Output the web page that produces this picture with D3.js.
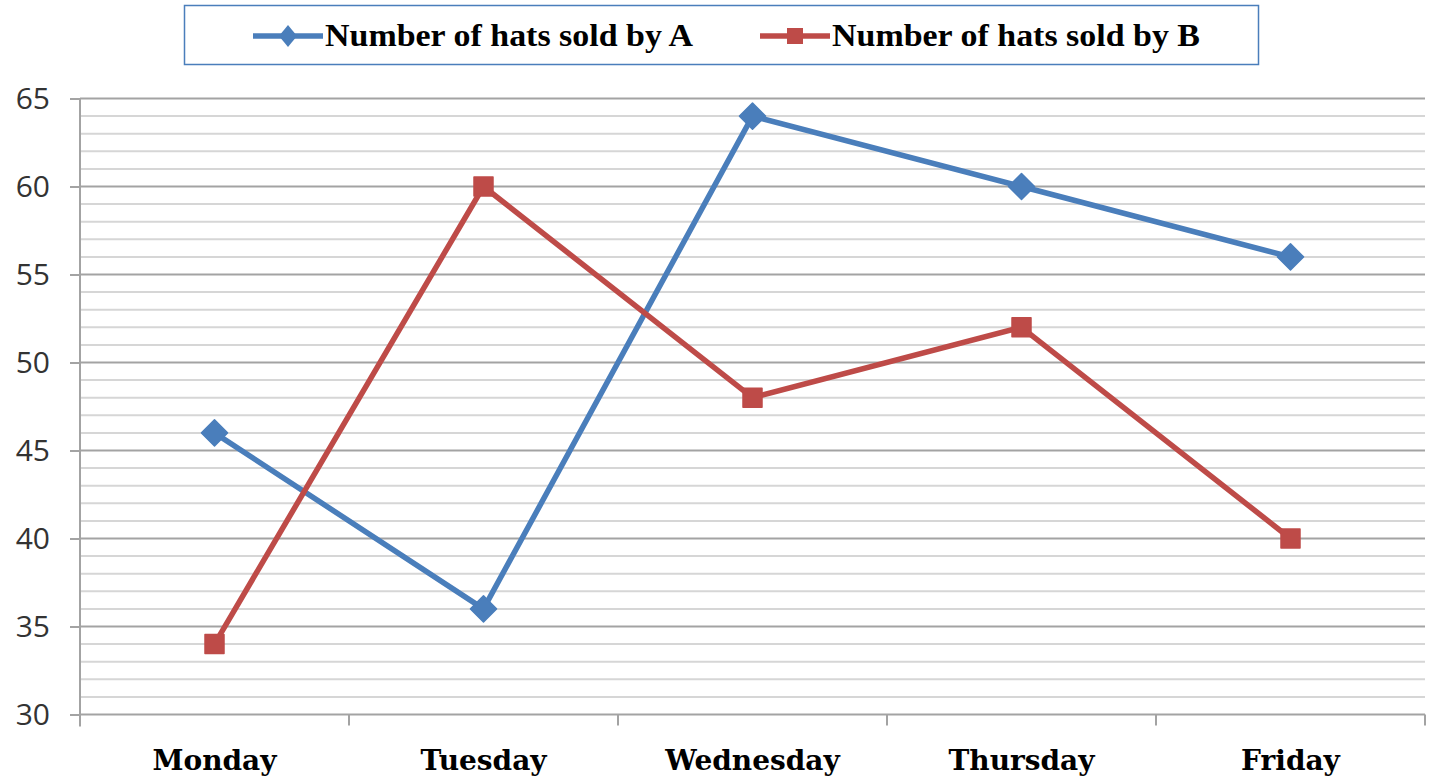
<!DOCTYPE html>
<html>
<head>
<meta charset="utf-8">
<script src="https://cdn.jsdelivr.net/npm/d3@7"></script>
<style>
  body { margin: 0; background: #fff; }
  svg { display: block; }
</style>
</head>
<body>
<div id="chart"></div>
<script>
// data
const days = ["Monday", "Tuesday", "Wednesday", "Thursday", "Friday"];
const hatsA = [46, 36, 64, 60, 56];
const hatsB = [34, 60, 48, 52, 40];
const seriesNames = ["Number of hats sold by A", "Number of hats sold by B"];
const yTicks = [30, 35, 40, 45, 50, 55, 60, 65];

const width = 1434, height = 778;
const margin = {top: 98.5, right: 9, bottom: 63.5, left: 80};
const colors = ["#4a7ebb", "#be4b48"];

const svg = d3.select('#chart').append('svg')
    .attr('width', width)
    .attr('height', height);

const x = d3.scaleBand()
    .domain(days)
    .range([margin.left, width - margin.right]);

const y = d3.scaleLinear()
    .domain([30, 65])
    .range([height - margin.bottom, margin.top]);

// minor gridlines every 1 unit
const minor = d3.range(31, 65).filter(v => v % 5 !== 0);
svg.append('g')
    .selectAll('line')
    .data(minor)
    .join('line')
    .attr('x1', margin.left)
    .attr('x2', width - margin.right)
    .attr('y1', d => y(d))
    .attr('y2', d => y(d))
    .attr('stroke', '#d6d6d6')
    .attr('stroke-width', 2);

// major gridlines
svg.append('g')
    .selectAll('line')
    .data(yTicks.filter(v => v !== 30))
    .join('line')
    .attr('x1', margin.left)
    .attr('x2', width - margin.right)
    .attr('y1', d => y(d))
    .attr('y2', d => y(d))
    .attr('stroke', '#a3a3a3')
    .attr('stroke-width', 2);

// y axis
const yAxis = svg.append('g')
    .attr('transform', `translate(${margin.left},0)`)
    .call(d3.axisLeft(y).tickValues(yTicks).tickSize(10).tickPadding(20));
yAxis.select('.domain').attr('stroke', '#a3a3a3').attr('stroke-width', 2)
    .attr('d', `M0,${margin.top}V${height - margin.bottom + 12}`);
yAxis.selectAll('.tick line').attr('stroke', '#a3a3a3').attr('stroke-width', 2);
yAxis.selectAll('.tick text')
    .attr('fill', '#333')
    .style('font-family', '"Open Sans", "Liberation Sans", sans-serif')
    .style('font-size', '30px');

// x axis
const xAxis = svg.append('g')
    .attr('transform', `translate(0,${height - margin.bottom})`);
xAxis.append('line')
    .attr('x1', margin.left)
    .attr('x2', width - margin.right)
    .attr('stroke', '#a3a3a3')
    .attr('stroke-width', 2);
xAxis.selectAll('.sep')
    .data(days)
    .join('line')
    .attr('class', 'sep')
    .attr('x1', d => x(d) + x.bandwidth())
    .attr('x2', d => x(d) + x.bandwidth())
    .attr('y1', 0)
    .attr('y2', 11)
    .attr('stroke', '#a3a3a3')
    .attr('stroke-width', 2);
xAxis.selectAll('text')
    .data(days)
    .join('text')
    .attr('x', d => x(d) + x.bandwidth() / 2)
    .attr('y', 55)
    .attr('text-anchor', 'middle')
    .style('font-family', '"DejaVu Serif", serif')
    .style('font-weight', 'bold')
    .style('font-size', '28px')
    .attr('fill', '#000')
    .text(d => d);

const cx = d => x(d) + x.bandwidth() / 2;
const line = d3.line()
    .x((v, i) => cx(days[i]))
    .y(v => y(v));

// diamond as rotated square, square marker
const diamondPath = (rx, ry) => `M0,${-ry}L${rx},0L0,${ry}L${-rx},0Z`;
const squarePath = h => `M${-h},${-h}H${h}V${h}H${-h}Z`;

[hatsA, hatsB].forEach((vals, s) => {
    svg.append('path')
        .datum(vals)
        .attr('d', line)
        .attr('fill', 'none')
        .attr('stroke', colors[s])
        .attr('stroke-width', 5.5)
        .attr('stroke-linejoin', 'round');
    svg.append('g')
        .selectAll('path')
        .data(vals)
        .join('path')
        .attr('transform', (v, i) => `translate(${cx(days[i])},${y(v)})`)
        .attr('d', s === 0 ? diamondPath(13, 13) : squarePath(9.5))
        .attr('stroke', colors[s])
        .attr('stroke-width', 1.5)
        .attr('stroke-linejoin', 'round')
        .attr('fill', colors[s]);
});

// legend
const legend = svg.append('g');
legend.append('rect')
    .attr('x', 184.5)
    .attr('y', 5.5)
    .attr('width', 1074)
    .attr('height', 59)
    .attr('fill', '#fff')
    .attr('stroke', '#4a7ebb')
    .attr('stroke-width', 1.5);

const legendX = [253, 760];
seriesNames.forEach((name, s) => {
    const g = legend.append('g').attr('transform', `translate(${legendX[s]},36)`);
    g.append('line')
        .attr('x1', 0).attr('x2', 70)
        .attr('stroke', colors[s])
        .attr('stroke-width', 5.5);
    g.append('path')
        .attr('transform', 'translate(35,0)')
        .attr('d', s === 0 ? diamondPath(9, 11) : squarePath(8))
        .attr('fill', colors[s]);
    g.append('text')
        .attr('x', 72)
        .attr('y', 10)
        .attr('textLength', s === 0 ? 368 : 368)
        .attr('lengthAdjust', 'spacingAndGlyphs')
        .style('font-family', '"Liberation Serif", serif')
        .style('font-weight', 'bold')
        .style('font-size', '31px')
        .attr('fill', '#000')
        .text(name);
});
</script>
</body>
</html>
